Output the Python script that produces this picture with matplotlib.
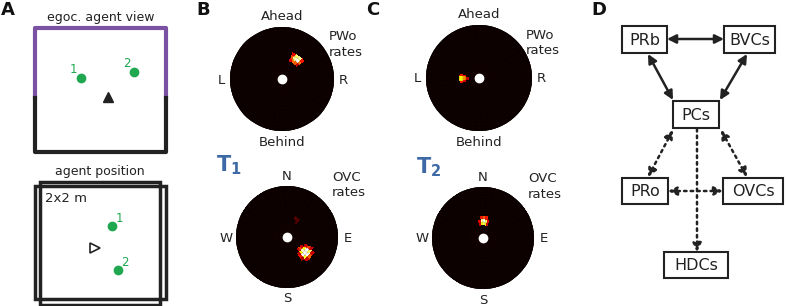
import numpy as np
import matplotlib
matplotlib.use("Agg")
import matplotlib.pyplot as plt
from matplotlib.patches import Rectangle

W, H = 787, 306
plt.rcParams["font.family"] = "DejaVu Sans"
TXT = "#222222"
GREEN = "#1fa84f"
PURPLE = "#7b52a3"
BLUE = "#3d69a6"

# object / agent positions in the 2x2 m arena (metres / 1 m)
ego_obj_x = [-0.30, 0.51]
ego_obj_y = [0.19, 0.29]
ego_agent = (0.115, -0.11)
allo_obj_x = [0.18, 0.27]
allo_obj_y = [0.29, -0.49]
allo_agent = (-0.08, -0.10)
obj_labels = ["1", "2"]

# polar rate maps, non-zero bins (7.5 deg x 1/16 radius):
# angle deg clockwise from Ahead / N, radius (fraction), normalised rate
pwo_t1_theta = [26, 34, 41, 49] * 3
pwo_t1_r = [0.40] * 4 + [0.47] * 4 + [0.53] * 4
pwo_t1_val = [0.35, 0.55, 0.5, 0.3,
              0.5, 0.9, 1.0, 0.55,
              0.35, 0.85, 0.9, 0.4]

ovc_t1_theta = [116, 124, 131, 139, 146] * 5 + [26, 34, 30]
ovc_t1_r = [0.34] * 5 + [0.40] * 5 + [0.47] * 5 + [0.53] * 5 + [0.59] * 5 + [0.40, 0.40, 0.34]
ovc_t1_val = [0.0, 0.3, 0.45, 0.3, 0.0,
              0.3, 0.75, 0.95, 0.75, 0.3,
              0.45, 1.0, 1.0, 1.0, 0.4,
              0.3, 0.85, 1.0, 0.8, 0.25,
              0.0, 0.3, 0.5, 0.3, 0.0,
              0.12, 0.12, 0.1]

pwo_t2_theta = [259, 266, 274, 281] * 2 + [266, 274]
pwo_t2_r = [0.28] * 4 + [0.34] * 4 + [0.22] * 2
pwo_t2_val = [0.35, 0.6, 0.6, 0.35,
              0.4, 0.75, 0.75, 0.4,
              0.3, 0.3]

ovc_t2_theta = [349, 356, 4, 11, 19] * 3
ovc_t2_r = [0.28] * 5 + [0.34] * 5 + [0.40] * 5
ovc_t2_val = [0.3, 0.75, 0.85, 0.7, 0.3,
              0.35, 0.9, 1.0, 0.85, 0.35,
              0.0, 0.4, 0.5, 0.4, 0.0]

N_TH, N_R = 48, 16

fig = plt.figure(figsize=(7.87, 3.06), dpi=100)


def px_ax(x0, y0, x1, y1, **kw):
    return fig.add_axes([x0 / W, 1 - y1 / H, (x1 - x0) / W, (y1 - y0) / H], **kw)


def ftext(x, y, s, **kw):
    kw.setdefault("color", TXT)
    fig.text(x / W, 1 - y / H, s, **kw)


def polar_map(cx, cy, rad, thetas, rs, vals):
    ax = px_ax(cx - rad, cy - rad, cx + rad, cy + rad, projection="polar")
    ax.set_theta_zero_location("N")
    ax.set_theta_direction(-1)
    th_edges = np.linspace(0, 2 * np.pi, N_TH + 1)
    r_edges = np.linspace(0, 1, N_R + 1)
    grid = np.zeros((N_R, N_TH))
    for t, r, v in zip(thetas, rs, vals):
        grid[int(r * N_R), int((t % 360) / (360 / N_TH))] = v
    ax.pcolormesh(th_edges, r_edges, grid, cmap="hot", vmin=0, vmax=1,
                  shading="flat", antialiased=False, zorder=1)
    # faint polar grid over the map
    ax.set_xticks(th_edges[:-1])
    ax.set_yticks(r_edges[1:-1])
    ax.set_xticklabels([])
    ax.set_yticklabels([])
    ax.grid(True, color="#2a0904", lw=0.3, alpha=0.3)
    ax.set_axisbelow(False)
    ax.plot(0, 0, "o", color="white", ms=6, zorder=5)
    ax.set_ylim(0, 1)
    ax.spines["polar"].set_visible(False)
    ax.set_facecolor("black")
    return ax


# ---- A: egocentric view
ax = px_ax(35, 28, 166, 152)
ax.set_xlim(-1, 1)
ax.set_ylim(-1, 1)
ax.axis("off")
split = -0.13
ax.plot([-1, -1, 1, 1], [split, 1, 1, split], color=PURPLE, lw=3, clip_on=False)
ax.plot([-1, -1, 1, 1], [split, -1, -1, split], color="#222222", lw=3, clip_on=False)
ax.plot(ego_obj_x, ego_obj_y, "o", color=GREEN, ms=6)
for x, y, s in zip(ego_obj_x, ego_obj_y, obj_labels):
    ax.text(x - 0.05, y + 0.04, s, color=GREEN, fontsize=8.5, ha="right", va="bottom")
ax.plot(*ego_agent, "^", color="#222222", ms=7)

# ---- A: agent position
ax = px_ax(35, 186, 166, 299)
ax.set_xlim(-1, 1)
ax.set_ylim(-1, 1)
ax.axis("off")
ax.add_patch(Rectangle((-1, -1), 2, 2, fill=False, lw=2.5, ec="#222222", clip_on=False))
ax.add_patch(Rectangle((-0.924, -1.106), 1.832, 2.177, fill=False, lw=2.5,
                       ec="#222222", clip_on=False))
ax.plot(allo_obj_x, allo_obj_y, "o", color=GREEN, ms=6)
for x, y, s in zip(allo_obj_x, allo_obj_y, obj_labels):
    ax.text(x + 0.05, y + 0.02, s, color=GREEN, fontsize=8.5, ha="left", va="bottom")
ax.plot(*allo_agent, ">", mfc="white", mec="#222222", ms=7, mew=1.2)
ax.text(-0.85, 0.9, "2x2 m", fontsize=9.5, color=TXT, ha="left", va="top")

ftext(101, 18, "egoc. agent view", fontsize=9, ha="center", va="center")
ftext(100, 171, "agent position", fontsize=9, ha="center", va="center")

# ---- B and C: rate maps
polar_map(282, 79, 52, pwo_t1_theta, pwo_t1_r, pwo_t1_val)
polar_map(287, 237, 51, ovc_t1_theta, ovc_t1_r, ovc_t1_val)
polar_map(479, 78, 53, pwo_t2_theta, pwo_t2_r, pwo_t2_val)
polar_map(483, 238, 51, ovc_t2_theta, ovc_t2_r, ovc_t2_val)

for cx, cy, r in [(282, 79, 52), (479, 78, 53)]:
    ftext(cx, cy - r - 11, "Ahead", fontsize=9.5, ha="center", va="center")
    ftext(cx, cy + r + 11, "Behind", fontsize=9.5, ha="center", va="center")
    ftext(cx - r - 9, cy + 1, "L", fontsize=9.5, ha="center", va="center")
    ftext(cx + r + 9, cy + 1, "R", fontsize=9.5, ha="center", va="center")
    ftext(cx + 47, cy - 49, "PWo\nrates", fontsize=9.5, ha="left", va="top",
          linespacing=1.25)
for cx, cy, r in [(287, 237, 51), (483, 238, 51)]:
    ftext(cx, cy - r - 10, "N", fontsize=9.5, ha="center", va="center")
    ftext(cx, cy + r + 11, "S", fontsize=9.5, ha="center", va="center")
    ftext(cx - r - 10, cy + 1, "W", fontsize=9.5, ha="center", va="center")
    ftext(cx + r + 10, cy + 1, "E", fontsize=9.5, ha="center", va="center")
    ftext(cx + 45, cy - 66, "OVC\nrates", fontsize=9.5, ha="left", va="top",
          linespacing=1.25)

ftext(229, 165, r"$\mathbf{T_1}$", fontsize=15, color=BLUE, ha="center", va="center")
ftext(429, 167, r"$\mathbf{T_2}$", fontsize=15, color=BLUE, ha="center", va="center")

# ---- D: diagram
ax = px_ax(590, 0, 787, 306)
ax.set_xlim(590, 787)
ax.set_ylim(306, 0)
ax.axis("off")
nodes = {
    "PRb": (622, 26, 667, 53),
    "BVCs": (724, 26, 775, 53),
    "PCs": (673, 101, 719, 128),
    "PRo": (622, 178, 668, 204),
    "OVCs": (723, 178, 783, 204),
    "HDCs": (664, 252, 728, 278),
}
for name, (x0, y0, x1, y1) in nodes.items():
    ax.add_patch(Rectangle((x0, y0), x1 - x0, y1 - y0, fill=False, lw=1.5, ec="#222222"))
    ax.text((x0 + x1) / 2, (y0 + y1) / 2 + 1, name, fontsize=11.5, color=TXT,
            ha="center", va="center")

links = [
    ((667, 39), (724, 39), "<|-|>", "-"),
    ((648, 54), (673, 100), "<|-|>", "-"),
    ((747, 54), (720, 100), "<|-|>", "-"),
    ((673, 130), (648, 177), "<|-|>", ":"),
    ((721, 130), (747, 177), "<|-|>", ":"),
    ((668, 191), (723, 191), "<|-|>", ":"),
    ((697, 129), (697, 252), "-|>", ":"),
]
for (x0, y0), (x1, y1), style, ls in links:
    ax.annotate("", xy=(x1, y1), xytext=(x0, y0),
                arrowprops=dict(arrowstyle=style, lw=1.8, ls=ls, color="#222222",
                                mutation_scale=13, shrinkA=0, shrinkB=0))

# panel letters
for x, s in [(1, "A"), (196, "B"), (366, "C"), (591, "D")]:
    ftext(x, 10, s, fontsize=13, fontweight="bold", ha="left", va="center",
          color="#111111")

fig.savefig("out.png", dpi=100)
